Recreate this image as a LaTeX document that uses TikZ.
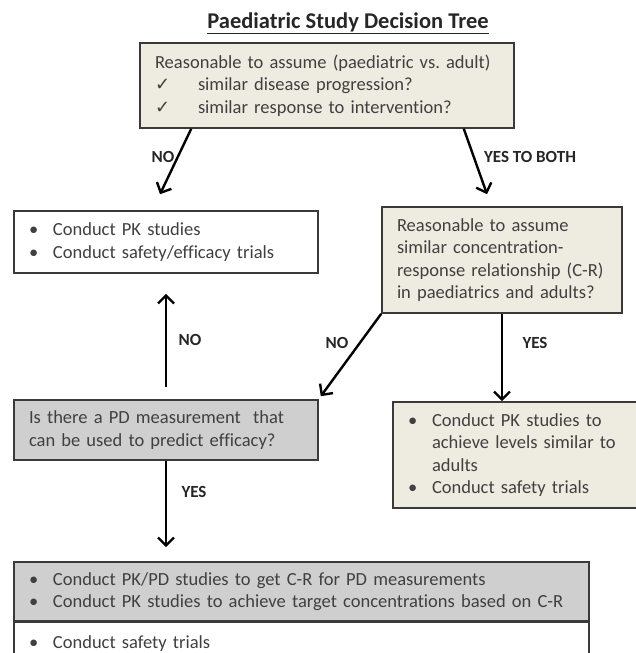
\documentclass[tikz,border=0pt]{standalone}
\usepackage{fontspec}
\setmainfont{Carlito}[Ligatures=NoCommon]
\newfontfamily\symfont{DejaVu Sans}
\usetikzlibrary{arrows.meta}
\definecolor{boxbeige}{HTML}{EEECE1}
\definecolor{boxgray}{HTML}{CFCFCF}
\definecolor{edgegray}{HTML}{3A3A3A}
\definecolor{textgray}{HTML}{404040}
\newcommand{\bitem}{\makebox[24pt][l]{•}}
\newcommand{\bindent}{\hspace*{24pt}}
\newcommand{\chk}{\makebox[43pt][l]{\symfont\fontsize{18}{18}\selectfont ✓}}

\begin{document}
\begin{tikzpicture}[x=1pt,y=-1pt,
    box/.style={draw=edgegray, line width=1.6pt, inner xsep=15pt, inner ysep=2pt,
      align=left, text=textgray, font=\fontsize{18.5}{22.5}\selectfont},
    flow/.style={line width=2.4pt, -{Straight Barb[length=8pt,width=16pt]}},
    lbl/.style={font=\bfseries\fontsize{17}{17}\selectfont, text=black!85}]
    \useasboundingbox (0,0) rectangle (636,653);
    % title
    \node[font=\bfseries\fontsize{22.5}{24}\selectfont, text=black!85] (title) at (348,23)
      {\underline{Paediatric Study Decision Tree}};
    % boxes
    \node[box, fill=boxbeige, text width=344pt, minimum height=85pt] (assume) at (327,85.5)
      {Reasonable to assume (paediatric vs.\ adult)\\
       \chk similar disease progression?\\
       \chk similar response to intervention?};
    \node[box, fill=white, text width=274pt, minimum height=62pt] (pkno) at (166,242)
      {\bitem Conduct PK studies\\
       \bitem Conduct safety/efficacy trials};
    \node[box, fill=boxbeige, text width=210pt, minimum height=106pt] (cr) at (502,260)
      {Reasonable to assume\\
       similar concentration-\\
       response relationship (C-R)\\
       in paediatrics and adults?};
    \node[box, fill=boxgray, text width=274pt, minimum height=60pt] (pd) at (166,430)
      {Is there a PD measurement\ \ that\\
       can be used to predict efficacy?};
    \node[box, fill=boxbeige, text width=227pt, minimum height=106pt] (pkyes) at (521.5,455)
      {\bitem Conduct PK studies to\\
       \bindent achieve levels similar to\\
       \bindent adults\\
       \bitem Conduct safety trials};
    \node[box, fill=boxgray, text width=545pt, minimum height=59pt] (pkpd) at (301.5,591.5)
      {\bitem Conduct PK/PD studies to get C-R for PD measurements\\
       \bitem Conduct PK studies to achieve\ target concentrations based on C-R};
    \node[box, fill=white, text width=545pt, minimum height=42pt, anchor=north] (safety) at (pkpd.south)
      {\bitem Conduct safety trials};
    % arrows
    \coordinate (pkpdtop) at (pd.south |- pkpd.north);
    \draw[flow] ([xshift=52pt]assume.south west) -- ([xshift=-6pt,yshift=16pt]pkno.north);
    \draw[flow] ([xshift=-51pt]assume.south east) -- ([xshift=-15pt,yshift=12pt]cr.north);
    \draw[flow] (cr.south west) -- ([xshift=2pt,yshift=3pt]pd.north east);
    \draw[flow] (cr.south) -- (cr.south |- pkyes.north);
    \draw[flow] ([yshift=12pt]pd.north) -- ([yshift=-20pt]pkno.south);
    \draw[flow] (pd.south) -- ([yshift=14pt]pkpdtop);
    % labels
    \node[lbl] (nopk) at (163,157) {NO};
    \node[lbl] (yesboth) at (530,157) {YES TO BOTH};
    \node[lbl] (nopd) at (190,340) {NO};
    \node[lbl] (nocr) at (337,343) {NO};
    \node[lbl] (yescr) at (535,343) {YES};
    \node[lbl] (yespd) at (194,492) {YES};
\end{tikzpicture}
\end{document}
